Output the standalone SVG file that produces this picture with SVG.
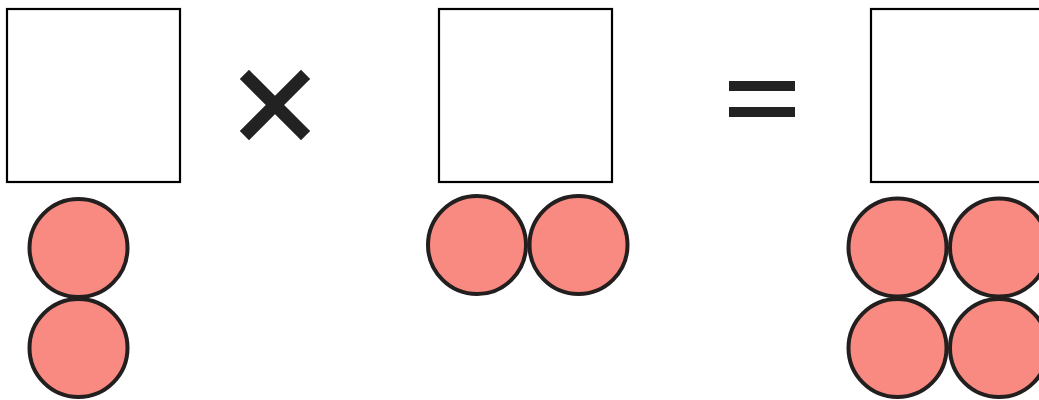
<svg xmlns="http://www.w3.org/2000/svg" width="1039" height="400" viewBox="0 0 1039 400">
<style>
.box{fill:#fff;stroke:#000;stroke-width:2.2}
.ball{fill:#f98a82;stroke:#231f1f;stroke-width:4}
.op{stroke:#222;stroke-width:13;fill:none}
</style>
<rect width="1039" height="400" fill="#fff"/>
<g id="box1"><rect class="box" x="7" y="9" width="173" height="173"/></g>
<g id="box2"><rect class="box" x="439" y="9" width="173" height="173"/></g>
<g id="box3"><rect class="box" x="871" y="9" width="173" height="173"/></g>
<g id="times"><path class="op" d="M249 79 L301 131 M301 79 L249 131" stroke-linecap="square"/></g>
<g id="equals"><rect x="729" y="81" width="66" height="10" fill="#222"/><rect x="729" y="107" width="66" height="10" fill="#222"/></g>
<g id="balls1">
<circle class="ball" cx="78.5" cy="248" r="49"/>
<circle class="ball" cx="78.5" cy="348" r="49"/>
</g>
<g id="balls2">
<circle class="ball" cx="477" cy="245" r="49"/>
<circle class="ball" cx="578.5" cy="245" r="49"/>
</g>
<g id="balls3">
<circle class="ball" cx="897.5" cy="247.5" r="49"/>
<circle class="ball" cx="999" cy="247.5" r="49"/>
<circle class="ball" cx="897.5" cy="348" r="49"/>
<circle class="ball" cx="999" cy="348" r="49"/>
</g>
<g id="connectors"/>
</svg>
